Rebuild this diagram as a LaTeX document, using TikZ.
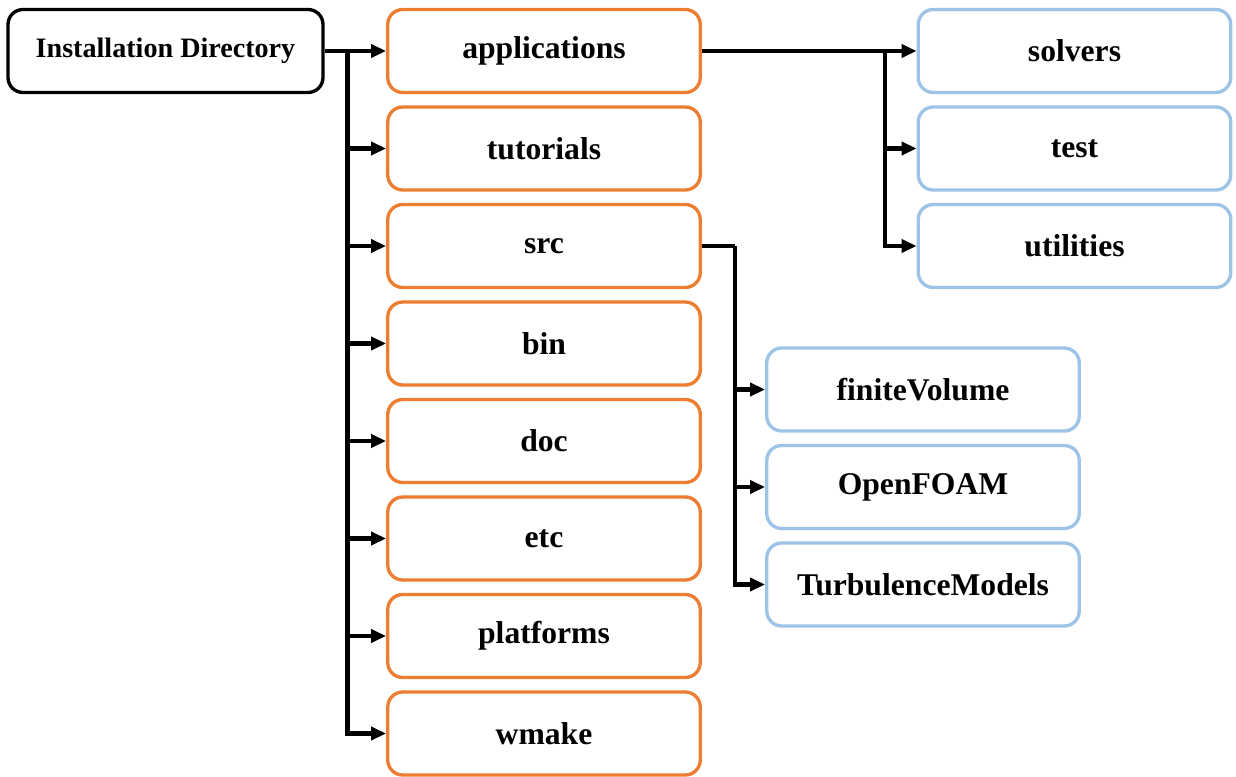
\documentclass[tikz,border=0pt]{standalone}
\usepackage{fontspec}
\setmainfont{Liberation Serif}
\usepackage{tikz}
\usetikzlibrary{positioning, arrows.meta}

\definecolor{dirorange}{RGB}{237,125,49}
\definecolor{subblue}{RGB}{157,195,230}

\begin{document}
\begin{tikzpicture}[
        box/.style={rounded corners=0.3cm, line width=1.9pt, fill=white,
                    minimum width=6.25cm, minimum height=1.66cm, inner sep=0pt,
                    font=\fontsize{18}{20}\selectfont\bfseries},
        rootbox/.style={box, draw=black, font=\fontsize{16}{18}\selectfont\bfseries},
        dirbox/.style={box, draw=dirorange},
        subbox/.style={box, draw=subblue},
        conn/.style={line width=2.3pt, -{Triangle[length=0.3cm,width=0.26cm]}},
        link/.style={line width=2.3pt}
    ]
    \useasboundingbox (0,0) rectangle (24.72,-15.54);
    % main directory
    \node[rootbox, minimum width=6.3cm] (inst) at (3.31,-1.02) {Installation Directory};
    % first level
    \node[dirbox] (app) at (10.88,-1.02) {applications};
    \node[dirbox] (tut) at (10.88,-2.97) {tutorials};
    \node[dirbox] (src) at (10.88,-4.92) {src};
    \node[dirbox] (bin) at (10.88,-6.87) {bin};
    \node[dirbox] (doc) at (10.88,-8.82) {doc};
    \node[dirbox] (etc) at (10.88,-10.77) {etc};
    \node[dirbox] (plat) at (10.88,-12.72) {platforms};
    \node[dirbox] (wmake) at (10.88,-14.67) {wmake};
    % applications
    \node[subbox] (solv) at (21.49,-1.02) {solvers};
    \node[subbox] (test) at (21.49,-2.97) {test};
    \node[subbox] (util) at (21.49,-4.92) {utilities};
    % src
    \node[subbox] (fvm) at (18.46,-7.79) {finiteVolume};
    \node[subbox] (ofoam) at (18.46,-9.74) {OpenFOAM};
    \node[subbox] (turb) at (18.46,-11.69) {TurbulenceModels};

    \coordinate (T1) at (6.95,-1.02);
    \coordinate (T2) at (17.7,-1.02);
    \coordinate (T3) at (14.7,-4.92);

    \draw[conn] (inst.east) -- (app.west);
    \draw[conn] (T1) |- (wmake.west);
    \draw[conn] (T1 |- tut.west) -- (tut.west);
    \draw[conn] (T1 |- src.west) -- (src.west);
    \draw[conn] (T1 |- bin.west) -- (bin.west);
    \draw[conn] (T1 |- doc.west) -- (doc.west);
    \draw[conn] (T1 |- etc.west) -- (etc.west);
    \draw[conn] (T1 |- plat.west) -- (plat.west);

    \draw[conn] (app.east) -- (solv.west);
    \draw[conn] (T2) |- (util.west);
    \draw[conn] (T2 |- test.west) -- (test.west);

    \draw[link] (src.east) -- (T3);
    \draw[conn] (T3) |- (turb.west);
    \draw[conn] (T3 |- fvm.west) -- (fvm.west);
    \draw[conn] (T3 |- ofoam.west) -- (ofoam.west);
\end{tikzpicture}
\end{document}
